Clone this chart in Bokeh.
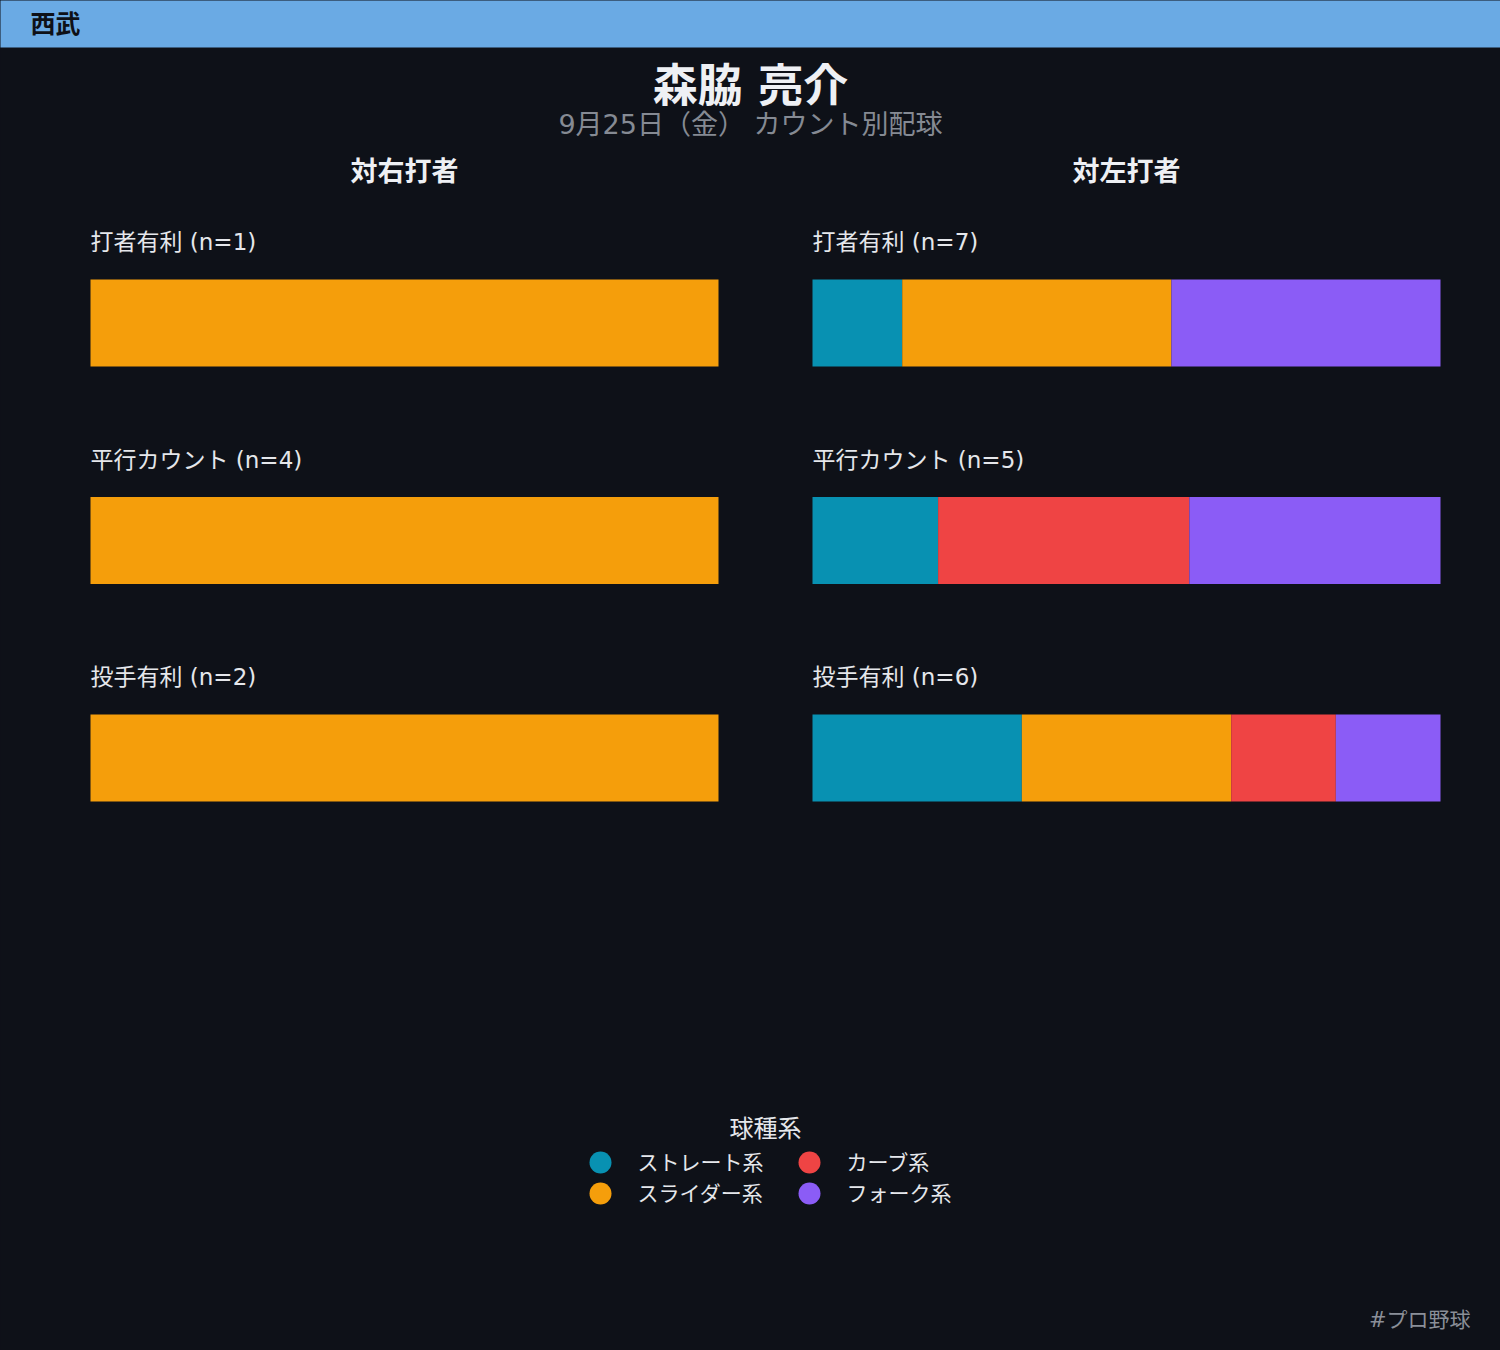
from bokeh.plotting import figure
from bokeh.models import Range1d, ColumnDataSource
from bokeh.embed import file_html
from bokeh.resources import INLINE
from bokeh.core.properties import value

# ---------------- data ----------------
team = "西武"
pitcher = "森脇 亮介"
subtitle = "9月25日（金） カウント別配球"
sides = ["対右打者", "対左打者"]
situations = ["打者有利", "平行カウント", "投手有利"]
pitch_types = ["ストレート系", "スライダー系", "カーブ系", "フォーク系"]
pitch_colors = ["#0891b2", "#f59e0b", "#ef4444", "#8b5cf6"]
legend_title = "球種系"
footer = "#プロ野球"

# pitch counts per situation (打者有利, 平行カウント, 投手有利)
vs_right_straight = [0, 0, 0]
vs_right_slider = [1, 4, 2]
vs_right_curve = [0, 0, 0]
vs_right_fork = [0, 0, 0]

vs_left_straight = [1, 1, 2]
vs_left_slider = [3, 0, 2]
vs_left_curve = [0, 2, 1]
vs_left_fork = [3, 2, 1]

# ---------------- layout constants ----------------
W, H = 1500, 1350
BG = "#0e1118"
FONT = "DejaVu Sans, Noto Sans CJK JP"
panel_px = [(90, 718), (812, 1440)]
row0_px, row_step_px = 322.5, 217.5
bar_h = 0.4

p = figure(width=W, height=H, output_backend="svg", toolbar_location=None,
           x_range=Range1d(0, W), y_range=Range1d(H, 0),
           x_axis_location=None, y_axis_location=None,
           min_border=0, min_border_left=0, min_border_right=0,
           min_border_top=0, min_border_bottom=0)
p.background_fill_color = BG
p.border_fill_color = BG
p.outline_line_color = None
p.grid.visible = False

# extra ranges: fraction (0..1) for each panel, row index for y
for name, (a, b) in zip(["L", "R"], panel_px):
    span = b - a
    p.extra_x_ranges[name] = Range1d(start=-a / span, end=(W - a) / span)
p.extra_y_ranges["rows"] = Range1d(start=(H - row0_px) / row_step_px,
                                   end=-row0_px / row_step_px)

# header bar
p.quad(left=[-20], right=[W + 20], top=[-20], bottom=[47], fill_color="#6aaae4",
       line_color=None)
p.text(x=[30], y=[23.5], text=[team], text_font=value(FONT), text_font_style="bold",
       text_font_size="25px", text_color="#0e1118", text_baseline="middle")

# title / subtitle
p.text(x=[W / 2], y=[86], text=[pitcher], text_font=value(FONT), text_font_style="bold",
       text_font_size="45px", text_color="#eef0f4", text_align="center", text_baseline="middle")
p.text(x=[W / 2], y=[124], text=[subtitle], text_font=value(FONT),
       text_font_size="27px", text_color="#858a93", text_align="center", text_baseline="middle")

side_data = [
    [vs_right_straight, vs_right_slider, vs_right_curve, vs_right_fork],
    [vs_left_straight, vs_left_slider, vs_left_curve, vs_left_fork],
]

for side_name, rng, (a, b), counts in zip(sides, ["L", "R"], panel_px, side_data):
    # column heading
    p.text(x=[(a + b) / 2], y=[171], text=[side_name], text_font=value(FONT),
           text_font_style="bold", text_font_size="27px", text_color="#eef0f4",
           text_align="center", text_baseline="middle")
    totals = [sum(c[i] for c in counts) for i in range(len(situations))]
    ys, lefts, rights, cols = [], [], [], []
    for i, n in enumerate(totals):
        cum = 0
        for k, c in enumerate(counts):
            v = c[i]
            if v > 0:
                ys.append(i)
                lefts.append(cum / n)
                rights.append((cum + v) / n)
                cols.append(pitch_colors[k])
            cum += v
    src = ColumnDataSource(dict(y=ys, left=lefts, right=rights, color=cols))
    p.hbar(y="y", left="left", right="right", height=bar_h, fill_color="color",
           line_color=None, source=src, x_range_name=rng, y_range_name="rows")
    labels = [f"{s} (n={n})" for s, n in zip(situations, totals)]
    p.text(x=[0] * len(labels), y=list(range(len(labels))), text=labels,
           x_range_name=rng, y_range_name="rows", y_offset=-81,
           text_font=value(FONT), text_font_size="23px", text_color="#e5e7eb",
           text_baseline="middle")

# legend (manual, two columns)
p.text(x=[765], y=[1128], text=[legend_title], text_font=value(FONT),
       text_font_size="24px", text_color="#e5e7eb", text_align="center", text_baseline="middle")
leg_x = [600, 600, 809, 809]
leg_y = [1162, 1193, 1162, 1193]
order = [0, 1, 2, 3]
p.scatter(x=leg_x, y=leg_y, size=22, marker="circle",
          fill_color=[pitch_colors[k] for k in order], line_color=None)
p.text(x=[x + 37 for x in leg_x], y=leg_y, text=[pitch_types[k] for k in order],
       text_font=value(FONT), text_font_size="21px", text_color="#e5e7eb",
       text_baseline="middle")

# footer
p.text(x=[1470], y=[1319], text=[footer], text_font=value(FONT), text_font_size="21px",
       text_color="#8a8f98", text_align="right", text_baseline="middle")

html = file_html(p, INLINE, title="カウント別配球")
html = html.replace("</head>",
                    "<style>html,body{margin:0;padding:0;background:%s;overflow:hidden}</style></head>" % BG, 1)
open("out.html", "w").write(html)
